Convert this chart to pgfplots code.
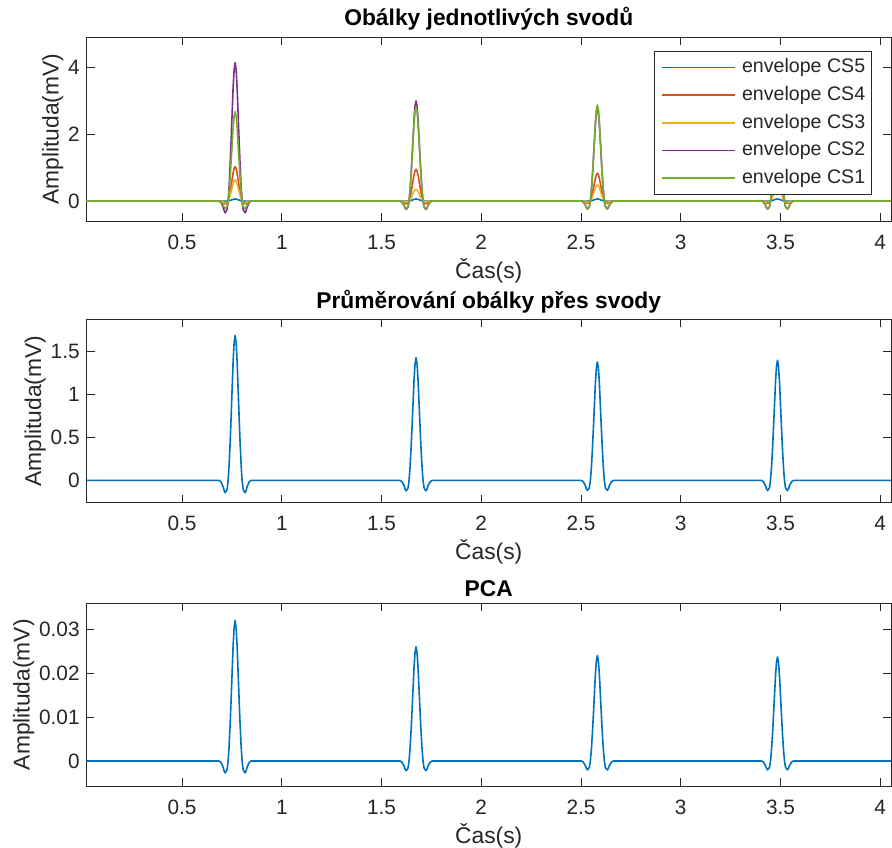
\documentclass[border=0pt]{standalone}
\usepackage{pgfplots}
\pgfplotsset{compat=1.18}
\usepackage{pgfplotstable}
\usepackage{fontspec}
\setmainfont{Liberation Sans}
\definecolor{axgray}{rgb}{0.15,0.15,0.15}
\definecolor{cfive}{rgb}{0,0.447,0.741}
\definecolor{cfour}{rgb}{0.850,0.325,0.098}
\definecolor{cthree}{rgb}{0.929,0.694,0.125}
\definecolor{ctwo}{rgb}{0.494,0.184,0.556}
\definecolor{cone}{rgb}{0.466,0.674,0.188}

% t, CS5, CS4, CS3, CS2, CS1
\pgfplotstableread{
t a b c d e
0.021 0 0 0 0 0
0.686 0 0 0 0 0
0.696 -0.001 -0.012 -0.008 -0.050 -0.032
0.706 -0.003 -0.046 -0.028 -0.187 -0.121
0.711 -0.004 -0.072 -0.044 -0.291 -0.188
0.716 -0.005 -0.088 -0.054 -0.353 -0.228
0.721 -0.005 -0.077 -0.047 -0.311 -0.201
0.726 -0.004 -0.062 -0.038 -0.249 -0.161
0.731 0 0 0 0 0
0.736 0.007 0.113 0.069 0.457 0.295
0.741 0.016 0.268 0.164 1.079 0.697
0.746 0.026 0.453 0.277 1.826 1.179
0.751 0.038 0.649 0.397 2.615 1.688
0.756 0.049 0.845 0.517 3.403 2.198
0.761 0.057 0.979 0.599 3.943 2.546
0.766 0.060 1.030 0.630 4.150 2.680
0.771 0.057 0.979 0.599 3.943 2.546
0.776 0.049 0.845 0.517 3.403 2.198
0.781 0.038 0.649 0.397 2.615 1.688
0.786 0.026 0.453 0.277 1.826 1.179
0.791 0.016 0.268 0.164 1.079 0.697
0.796 0.007 0.113 0.069 0.457 0.295
0.801 0 0 0 0 0
0.806 -0.004 -0.062 -0.038 -0.249 -0.161
0.811 -0.005 -0.077 -0.047 -0.311 -0.201
0.816 -0.005 -0.088 -0.054 -0.353 -0.228
0.821 -0.004 -0.072 -0.044 -0.291 -0.188
0.826 -0.003 -0.046 -0.028 -0.187 -0.121
0.836 -0.001 -0.012 -0.008 -0.050 -0.032
0.846 0 0 0 0 0
1.593 0 0 0 0 0
1.603 -0.001 -0.011 -0.004 -0.036 -0.034
1.613 -0.003 -0.043 -0.016 -0.135 -0.127
1.618 -0.004 -0.067 -0.025 -0.210 -0.198
1.623 -0.005 -0.081 -0.030 -0.255 -0.241
1.628 -0.005 -0.071 -0.026 -0.225 -0.212
1.633 -0.004 -0.057 -0.021 -0.180 -0.170
1.638 0 0 0 0 0
1.643 0.007 0.105 0.039 0.330 0.311
1.648 0.016 0.247 0.091 0.780 0.736
1.653 0.026 0.418 0.154 1.320 1.245
1.658 0.038 0.599 0.221 1.890 1.783
1.663 0.049 0.779 0.287 2.460 2.321
1.668 0.057 0.903 0.333 2.850 2.689
1.673 0.060 0.950 0.350 3.000 2.830
1.678 0.057 0.903 0.333 2.850 2.689
1.683 0.049 0.779 0.287 2.460 2.321
1.688 0.038 0.599 0.221 1.890 1.783
1.693 0.026 0.418 0.154 1.320 1.245
1.698 0.016 0.247 0.091 0.780 0.736
1.703 0.007 0.105 0.039 0.330 0.311
1.708 0 0 0 0 0
1.713 -0.004 -0.057 -0.021 -0.180 -0.170
1.718 -0.005 -0.071 -0.026 -0.225 -0.212
1.723 -0.005 -0.081 -0.030 -0.255 -0.241
1.728 -0.004 -0.067 -0.025 -0.210 -0.198
1.733 -0.003 -0.043 -0.016 -0.135 -0.127
1.743 -0.001 -0.011 -0.004 -0.036 -0.034
1.753 0 0 0 0 0
2.502 0 0 0 0 0
2.512 -0.001 -0.010 -0.006 -0.034 -0.035
2.522 -0.003 -0.037 -0.022 -0.126 -0.130
2.527 -0.004 -0.058 -0.034 -0.196 -0.202
2.532 -0.005 -0.071 -0.041 -0.238 -0.245
2.537 -0.005 -0.062 -0.036 -0.210 -0.216
2.542 -0.004 -0.050 -0.029 -0.168 -0.173
2.547 0 0 0 0 0
2.552 0.007 0.091 0.053 0.308 0.317
2.557 0.016 0.216 0.125 0.728 0.749
2.562 0.026 0.365 0.211 1.232 1.267
2.567 0.038 0.523 0.302 1.764 1.814
2.572 0.049 0.681 0.394 2.296 2.362
2.577 0.057 0.789 0.456 2.660 2.736
2.582 0.060 0.830 0.480 2.800 2.880
2.587 0.057 0.789 0.456 2.660 2.736
2.592 0.049 0.681 0.394 2.296 2.362
2.597 0.038 0.523 0.302 1.764 1.814
2.602 0.026 0.365 0.211 1.232 1.267
2.607 0.016 0.216 0.125 0.728 0.749
2.612 0.007 0.091 0.053 0.308 0.317
2.617 0 0 0 0 0
2.622 -0.004 -0.050 -0.029 -0.168 -0.173
2.627 -0.005 -0.062 -0.036 -0.210 -0.216
2.632 -0.005 -0.071 -0.041 -0.238 -0.245
2.637 -0.004 -0.058 -0.034 -0.196 -0.202
2.642 -0.003 -0.037 -0.022 -0.126 -0.130
2.652 -0.001 -0.010 -0.006 -0.034 -0.035
2.662 0 0 0 0 0
3.405 0 0 0 0 0
3.415 -0.001 -0.010 -0.006 -0.034 -0.034
3.425 -0.003 -0.038 -0.023 -0.128 -0.128
3.430 -0.004 -0.060 -0.035 -0.200 -0.200
3.435 -0.005 -0.072 -0.043 -0.242 -0.242
3.440 -0.005 -0.064 -0.038 -0.214 -0.214
3.445 -0.004 -0.051 -0.030 -0.171 -0.171
3.450 0 0 0 0 0
3.455 0.007 0.094 0.055 0.314 0.314
3.460 0.016 0.221 0.130 0.741 0.741
3.465 0.026 0.374 0.220 1.254 1.254
3.470 0.038 0.536 0.315 1.796 1.796
3.475 0.049 0.697 0.410 2.337 2.337
3.480 0.057 0.808 0.475 2.708 2.708
3.485 0.060 0.850 0.500 2.850 2.850
3.490 0.057 0.808 0.475 2.708 2.708
3.495 0.049 0.697 0.410 2.337 2.337
3.500 0.038 0.536 0.315 1.796 1.796
3.505 0.026 0.374 0.220 1.254 1.254
3.510 0.016 0.221 0.130 0.741 0.741
3.515 0.007 0.094 0.055 0.314 0.314
3.520 0 0 0 0 0
3.525 -0.004 -0.051 -0.030 -0.171 -0.171
3.530 -0.005 -0.064 -0.038 -0.214 -0.214
3.535 -0.005 -0.072 -0.043 -0.242 -0.242
3.540 -0.004 -0.060 -0.035 -0.200 -0.200
3.545 -0.003 -0.038 -0.023 -0.128 -0.128
3.555 -0.001 -0.010 -0.006 -0.034 -0.034
3.565 0 0 0 0 0
4.054 0 0 0 0 0
}\toptab

% t, average, PCA
\pgfplotstableread{
t m p
0.021 0 0
0.686 0 0
0.696 -0.020 -0.00038
0.706 -0.076 -0.00144
0.711 -0.118 -0.00224
0.716 -0.144 -0.00272
0.721 -0.127 -0.00240
0.726 -0.101 -0.00192
0.731 0 0
0.736 0.186 0.00352
0.741 0.439 0.00832
0.746 0.744 0.01408
0.751 1.065 0.02016
0.756 1.386 0.02624
0.761 1.606 0.03040
0.766 1.690 0.03200
0.771 1.606 0.03040
0.776 1.386 0.02624
0.781 1.065 0.02016
0.786 0.744 0.01408
0.791 0.439 0.00832
0.796 0.186 0.00352
0.801 0 0
0.806 -0.101 -0.00192
0.811 -0.127 -0.00240
0.816 -0.144 -0.00272
0.821 -0.118 -0.00224
0.826 -0.076 -0.00144
0.836 -0.020 -0.00038
0.846 0 0
1.593 0 0
1.603 -0.017 -0.00031
1.613 -0.064 -0.00117
1.618 -0.100 -0.00182
1.623 -0.122 -0.00221
1.628 -0.107 -0.00195
1.633 -0.086 -0.00156
1.638 0 0
1.643 0.157 0.00286
1.648 0.372 0.00676
1.653 0.629 0.01144
1.658 0.901 0.01638
1.663 1.173 0.02132
1.668 1.359 0.02470
1.673 1.430 0.02600
1.678 1.359 0.02470
1.683 1.173 0.02132
1.688 0.901 0.01638
1.693 0.629 0.01144
1.698 0.372 0.00676
1.703 0.157 0.00286
1.708 0 0
1.713 -0.086 -0.00156
1.718 -0.107 -0.00195
1.723 -0.122 -0.00221
1.728 -0.100 -0.00182
1.733 -0.064 -0.00117
1.743 -0.017 -0.00031
1.753 0 0
2.502 0 0
2.512 -0.017 -0.00029
2.522 -0.062 -0.00108
2.527 -0.097 -0.00168
2.532 -0.117 -0.00204
2.537 -0.104 -0.00180
2.542 -0.083 -0.00144
2.547 0 0
2.552 0.152 0.00264
2.557 0.359 0.00624
2.562 0.607 0.01056
2.567 0.869 0.01512
2.572 1.132 0.01968
2.577 1.311 0.02280
2.582 1.380 0.02400
2.587 1.311 0.02280
2.592 1.132 0.01968
2.597 0.869 0.01512
2.602 0.607 0.01056
2.607 0.359 0.00624
2.612 0.152 0.00264
2.617 0 0
2.622 -0.083 -0.00144
2.627 -0.104 -0.00180
2.632 -0.117 -0.00204
2.637 -0.097 -0.00168
2.642 -0.062 -0.00108
2.652 -0.017 -0.00029
2.662 0 0
3.405 0 0
3.415 -0.017 -0.00028
3.425 -0.063 -0.00107
3.430 -0.098 -0.00166
3.435 -0.119 -0.00201
3.440 -0.105 -0.00178
3.445 -0.084 -0.00142
3.450 0 0
3.455 0.154 0.00261
3.460 0.364 0.00616
3.465 0.616 0.01043
3.470 0.882 0.01493
3.475 1.148 0.01943
3.480 1.330 0.02252
3.485 1.400 0.02370
3.490 1.330 0.02252
3.495 1.148 0.01943
3.500 0.882 0.01493
3.505 0.616 0.01043
3.510 0.364 0.00616
3.515 0.154 0.00261
3.520 0 0
3.525 -0.084 -0.00142
3.530 -0.105 -0.00178
3.535 -0.119 -0.00201
3.540 -0.098 -0.00166
3.545 -0.063 -0.00107
3.555 -0.017 -0.00028
3.565 0 0
4.054 0 0
}\bottab

\pgfplotsset{
  matstyle/.style={
    scale only axis, width=402.25pt, anchor=south west,
    xmin=0.021, xmax=4.054,
    xtick={0.5,1,1.5,2,2.5,3,3.5,4},
    xticklabels={0.5,1,1.5,2,2.5,3,3.5,4},
    scaled ticks=false,
    tick align=inside, major tick length=4pt,
    xtick pos=both, ytick pos=both,
    axis line style={color=axgray, line width=0.4pt},
    every tick/.style={color=axgray, line width=0.4pt},
    tick label style={font=\fontsize{10.4}{12}\selectfont, text=axgray},
    xticklabel style={anchor=base, inner sep=0pt, yshift=-14pt},
    yticklabel style={anchor=east, inner sep=0pt, xshift=-3.25pt},
    label style={font=\fontsize{11.4}{13}\selectfont, text=axgray},
    xlabel={Čas(s)},
    xlabel style={at={(axis description cs:0.5,0)}, anchor=base, inner sep=0pt, yshift=-28.5pt},
    ylabel={Amplituda(mV)},
    ylabel style={inner sep=2.2pt},
    title style={font=\bfseries\fontsize{11.4}{13}\selectfont, at={(axis description cs:0.5,1)}, anchor=south, inner sep=0pt, yshift=-3pt},
  },
  sig/.style={color=#1, line width=0.8pt, line join=round},
}

\begin{document}
\begin{tikzpicture}
\useasboundingbox (0pt,0pt) rectangle (446pt,-423.5pt);

\begin{axis}[matstyle,
  at={(43.25pt,-110.5pt)}, height=92pt,
  ymin=-0.60, ymax=4.92,
  ytick={0,2,4}, yticklabels={0,2,4},
  title={Obálky jednotlivých svodů},
  legend style={at={(axis description cs:1,1)}, anchor=north east,
    xshift=-9.5pt, yshift=-7pt, draw=axgray, line width=0.4pt, fill=white,
    inner sep=3.2pt, font=\fontsize{9.8}{12}\selectfont, text=axgray,
    row sep=4pt,
    nodes={inner sep=0pt, text height=7.5pt, text depth=2.3pt, anchor=west},
    /tikz/every odd column/.append style={column sep=3.35pt}},
  legend cell align=left,
  legend image code/.code={\draw[#1] (0pt,0pt) -- (36.3pt,0pt);},
]
\addplot[sig=cfive] table[x=t,y=a]{\toptab};
\addlegendentry{envelope CS5}
\addplot[sig=cfour] table[x=t,y=b]{\toptab};
\addlegendentry{envelope CS4}
\addplot[sig=cthree] table[x=t,y=c]{\toptab};
\addlegendentry{envelope CS3}
\addplot[sig=ctwo] table[x=t,y=d]{\toptab};
\addlegendentry{envelope CS2}
\addplot[sig=cone] table[x=t,y=e]{\toptab};
\addlegendentry{envelope CS1}
\end{axis}

\begin{axis}[matstyle,
  at={(43.25pt,-251.35pt)}, height=91.7pt,
  ymin=-0.26, ymax=1.877,
  ytick={0,0.5,1,1.5}, yticklabels={0,0.5,1,1.5},
  title={Průměrování obálky přes svody},
]
\addplot[sig=cfive] table[x=t,y=m]{\bottab};
\end{axis}

\begin{axis}[matstyle,
  at={(43.25pt,-393pt)}, height=91.35pt,
  ymin=-0.0057, ymax=0.0359,
  ytick={0,0.01,0.02,0.03}, yticklabels={0,0.01,0.02,0.03},
  title={PCA},
]
\addplot[sig=cfive] table[x=t,y=p]{\bottab};
\end{axis}
\end{tikzpicture}
\end{document}
